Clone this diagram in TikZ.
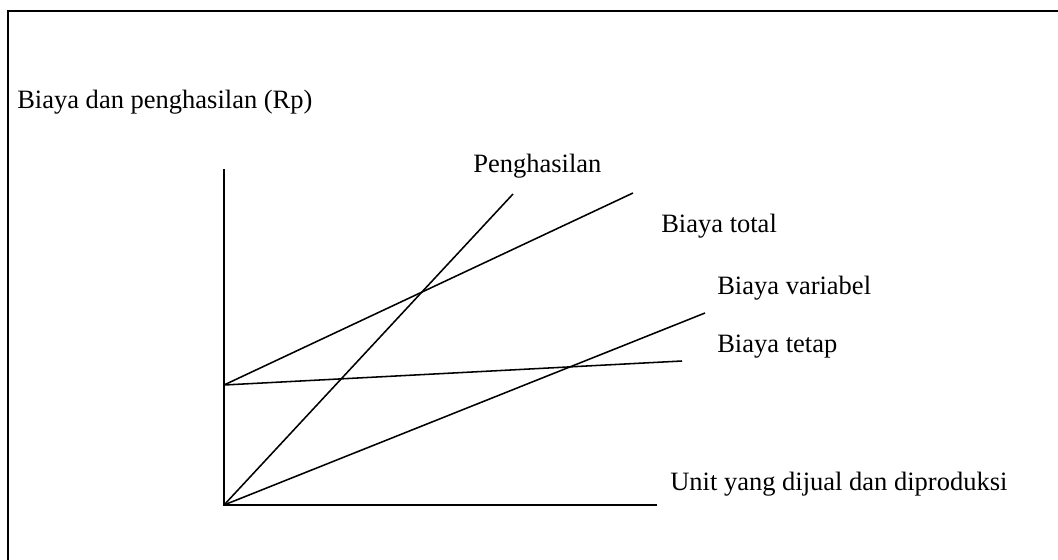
\documentclass[tikz,border=0pt]{standalone}
\usepackage{fontspec}
\setmainfont{Liberation Serif}
\usepackage{tikz}
\definecolor{ink}{HTML}{000000}

\begin{document}
\begin{tikzpicture}[x=0.025cm,y=-0.025cm,
    lbl/.style={anchor=base west,inner sep=0pt,font=\fontsize{18.85}{22}\selectfont},
    curve/.style={ink,line width=1.1pt}]
  \useasboundingbox (0,0) rectangle (1058,559);
  \fill[white] (0,0) rectangle (1058,559);
  % frame, cut off at the right and bottom
  \draw[line width=1.5pt] (8,600) -- (8,11) -- (1100,11);
  \node[lbl] (title) at (17,108) {Biaya dan penghasilan (Rp)};
  % axes
  \coordinate (O) at (224,505);
  \coordinate (ytop) at (224,169);
  \coordinate (xend) at (657,505);
  \coordinate (F) at (224,385);
  \draw[curve] (ytop) -- (O) -- (xend);
  % lines
  \coordinate (rev) at (513,194);
  \coordinate (tot) at (633,193);
  \coordinate (var) at (705,313);
  \coordinate (fix) at (682,361);
  \draw[curve] (O) -- (rev);
  \draw[curve] (F) -- (tot);
  \draw[curve] (O) -- (var);
  \draw[curve] (F) -- (fix);
  % labels
  \node[lbl] (revlbl) at (473,172) {Penghasilan};
  \node[lbl] (totlbl) at (661,232) {Biaya total};
  \node[lbl] (varlbl) at (717,294) {Biaya variabel};
  \node[lbl] (fixlbl) at (717,352) {Biaya tetap};
  \node[lbl] (unitlbl) at (670,490) {Unit yang dijual dan diproduksi};
\end{tikzpicture}
\end{document}
